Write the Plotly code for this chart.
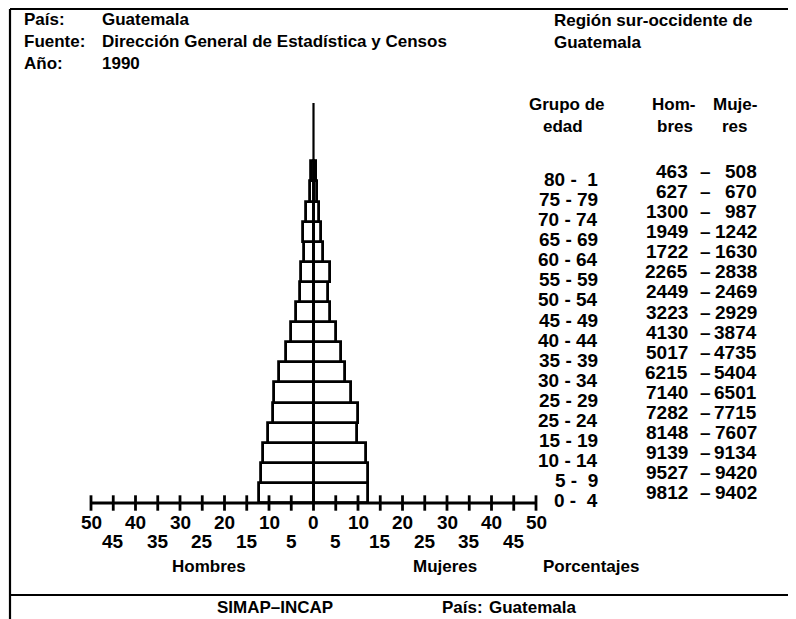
import plotly.graph_objects as go

# ---------------- data (bottom -> top) ----------------
age_labels = ["0 -  4", "5 -  9", "10 - 14", "15 - 19", "25 - 24", "25 - 29",
              "30 - 34", "35 - 39", "40 - 44", "45 - 49", "50 - 54", "55 - 59",
              "60 - 64", "65 - 69", "70 - 74", "75 - 79", "80 -  1"]
hombres = [9812, 9527, 9139, 8148, 7282, 7140, 6215, 5017, 4130, 3223,
           2449, 2265, 1722, 1949, 1300, 627, 463]
mujeres = [9402, 9420, 9134, 7607, 7715, 6501, 5404, 4735, 3874, 2929,
           2469, 2838, 1630, 1242, 987, 670, 508]

tick_vals = [-50, -45, -40, -35, -30, -25, -20, -15, -10, -5, 0,
             5, 10, 15, 20, 25, 30, 35, 40, 45, 50]
row1_vals = [-50, -40, -30, -20, -10, 0, 10, 20, 30, 40, 50]
row1_text = ["50", "40", "30", "20", "10", "0", "10", "20", "30", "40", "50"]
row2_vals = [-45, -35, -25, -15, -5, 5, 15, 25, 35, 45]
row2_text = ["45", "35", "25", "15", "5", "5", "15", "25", "35", "45"]

# percentages of each sex
tot_h = sum(hombres)
tot_m = sum(mujeres)
pct_h = [-100.0 * v / tot_h for v in hombres]
pct_m = [100.0 * v / tot_m for v in mujeres]
ypos = list(range(len(age_labels)))

# ---------------- geometry helpers (reference-pixel coordinates) ----------------
OFF = 8                      # page body margin
W, H = 796 - OFF, 619 - OFF
L, R, T, B = 91, 536, 101, 503   # where -50..50 and rows -0.5..19.5 sit
X0PX = (L + R) / 2.0
XS = (R - L) / 100.0          # px per percent
YS = (B - T) / 20.0           # px per row unit


def xd(px):
    return (px - X0PX) / XS


def yd(py):
    return -0.5 + (B - py) / YS


FONT = "Liberation Sans, Arial, sans-serif"
NUMF = dict(family=FONT, size=19, color="black", weight="bold")
WORDF = dict(family=FONT, size=17, color="black", weight="bold")

fig = go.Figure()

bar_style = dict(color="white", line=dict(color="black", width=2.8))
fig.add_trace(go.Bar(y=ypos, x=pct_h, orientation="h", width=1,
                     marker=bar_style, hoverinfo="skip"))
fig.add_trace(go.Bar(y=ypos, x=pct_m, orientation="h", width=1,
                     marker=bar_style, hoverinfo="skip"))

# centre line
fig.add_trace(go.Scatter(x=[0, 0], y=[-0.5, yd(103)], mode="lines",
                         line=dict(color="black", width=2.2), hoverinfo="skip"))
# axis line
fig.add_trace(go.Scatter(x=[tick_vals[0], tick_vals[-1]], y=[-0.5, -0.5],
                         mode="lines", line=dict(color="black", width=2.8),
                         hoverinfo="skip"))
# crossing ticks
fig.add_trace(go.Scatter(x=tick_vals, y=[-0.5] * len(tick_vals), mode="markers",
                         marker=dict(symbol="line-ns", size=11,
                                     line=dict(color="black", width=2.8)),
                         hoverinfo="skip"))

ann = []


def add_data_text(txt, x, y, anchor="center", font=NUMF):
    ann.append(dict(text=txt, x=x, y=y, xref="x", yref="y", xanchor=anchor,
                    yanchor="middle", showarrow=False, font=font))


# tick labels (two staggered rows)
for v, t in zip(row1_vals, row1_text):
    add_data_text(t, v, yd(522))
for v, t in zip(row2_vals, row2_text):
    add_data_text(t, v, yd(541))

# age group labels (right-aligned) and counts
for yv, lab, h, m in zip(ypos, age_labels, hombres, mujeres):
    add_data_text(lab, xd(600), yv - 0.4, "right")
    add_data_text(str(h), xd(690), yv, "right")
    add_data_text("\u2013", xd(705), yv, "center")
    add_data_text(str(m), xd(759), yv, "right")


def add_text(txt, px, py, anchor="left", font=WORDF):
    add_data_text(txt, xd(px), yd(py), anchor, font)


add_text("País:", 22, 19)
add_text("Guatemala", 100, 19)
add_text("Fuente:", 22, 41)
add_text("Dirección General de Estadística y Censos", 100, 41)
add_text("Año:", 22, 63)
add_text("1990", 100, 63)
add_text("Región sur-occidente de", 552, 20)
add_text("Guatemala", 552, 42)
add_text("Grupo de", 527, 104)
add_text("edad", 541, 126)
add_text("Hom-", 650, 104)
add_text("bres", 655, 126)
add_text("Muje-", 711, 104)
add_text("res", 720, 126)
add_text("Hombres", 209, 566, "center")
add_text("Mujeres", 445, 566, "center")
add_text("Porcentajes", 591, 566, "center")
add_text("SIMAP\u2013INCAP", 275, 607, "center")
add_text("País:", 440, 607)
add_text("Guatemala", 487, 607)

frame = dict(color="black", width=2.2)
shapes = [
    dict(type="line", xref="x", yref="y", x0=xd(10), x1=xd(800),
         y0=yd(9), y1=yd(9), line=frame),
    dict(type="line", xref="x", yref="y", x0=xd(10), x1=xd(10),
         y0=yd(9), y1=yd(625), line=frame),
    dict(type="line", xref="x", yref="y", x0=xd(10), x1=xd(800),
         y0=yd(595), y1=yd(595), line=frame),
]

fig.update_layout(
    width=W, height=H,
    margin=dict(l=0, r=0, t=0, b=0, pad=0),
    paper_bgcolor="white", plot_bgcolor="white",
    showlegend=False, barmode="overlay", bargap=0,
    xaxis=dict(range=[xd(OFF), xd(796)], visible=False, fixedrange=True),
    yaxis=dict(range=[yd(619), yd(OFF)], visible=False, fixedrange=True),
    annotations=ann, shapes=shapes,
)

fig.write_html("out.html")
